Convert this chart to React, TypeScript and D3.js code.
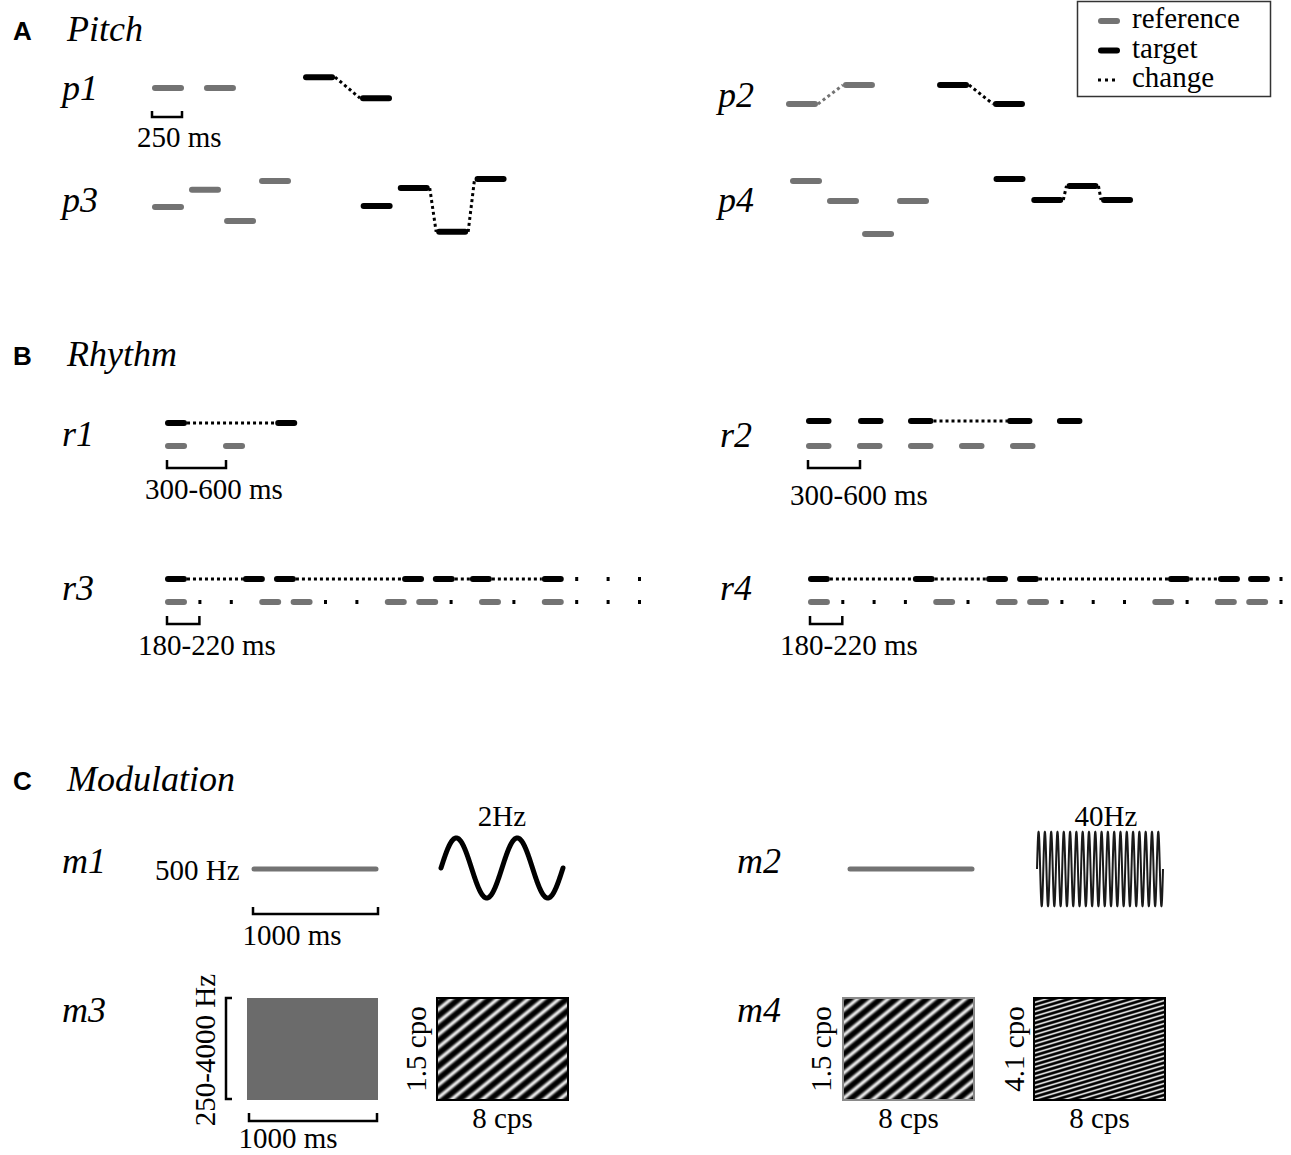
import React, { useEffect, useRef } from 'react'
import * as d3 from 'd3'

const W = 1291
const H = 1155
const SERIF = '"Liberation Serif", "Times New Roman", serif'
const SANS = '"Liberation Sans", Arial, sans-serif'
const GREY = '#737373'

// ---- A: pitch. onsets in ms (tones are 250 ms), levels in pitch steps
const TONE_MS = 250
const p1RefOn = [0, 406]
const p1RefLv = [0, 0]
const p1TgtOn = [1180, 1625]
const p1TgtLv = [3.1, -2.9]
const p1RefChg: number[] = []
const p1TgtChg = [0]

const p2RefOn = [0, 445]
const p2RefLv = [-2.7, 2.7]
const p2TgtOn = [1180, 1617]
const p2TgtLv = [2.7, -2.7]
const p2RefChg = [0]
const p2TgtChg = [0]

const p3RefOn = [0, 289, 563, 836]
const p3RefLv = [0, 4.9, -4, 7.4]
const p3TgtOn = [1630, 1920, 2220, 2520]
const p3TgtLv = [0.3, 5.4, -7.1, 8]
const p3RefChg: number[] = []
const p3TgtChg = [1, 2]

const p4RefOn = [0, 289, 563, 836]
const p4RefLv = [5.7, 0, -9.4, 0]
const p4TgtOn = [1590, 1885, 2160, 2430]
const p4TgtLv = [6.3, 0.3, 4.3, 0.3]
const p4RefChg: number[] = []
const p4TgtChg = [1, 2]

// ---- B: rhythm. onsets in beats (r1, r2) or grid slots (r3, r4)
const r1RefOn = [0, 1]
const r1TgtOn = [0, 1.9]
const r1TgtChg = [0]

const r2RefOn = [0, 1, 2, 3, 4]
const r2TgtOn = [0, 1.02, 2, 3.94, 4.92]
const r2TgtChg = [2]

const r3RefOn = [0, 3, 4, 7, 8, 10, 12]
const r3RefRest = [1, 2, 5, 6, 9, 11, 13, 14, 15]
const r3TgtOn = [0, 2.48, 3.47, 7.55, 8.53, 9.71, 12]
const r3TgtRest = [13, 14, 15]
const r3TgtChg = [0, 2, 4, 5]

const r4RefOn = [0, 4, 6, 7, 11, 13, 14]
const r4RefRest = [1, 2, 3, 5, 8, 9, 10, 12, 15]
const r4TgtOn = [0, 3.35, 5.69, 6.68, 11.5, 13.1, 14.06]
const r4TgtRest = [15]
const r4TgtChg = [0, 1, 3, 4]

// ---- C: modulation
const TONE_DUR = 1000 // ms
const m1ModHz = 2
const m2ModCycles = 20 // cycles visible in the drawn 40 Hz trace
const ripCps = 8.5 // temporal cycles across a ripple panel
const ripCpo = [1.5, 1.5, 4.1]
const ripOctSpan = 5.4

const legendLabels = ['reference', 'target', 'change']

type G = d3.Selection<SVGGElement, unknown, null, undefined>

function text(g: G, s: string, x: number, y: number, size: number, opts: any = {}) {
  const t = g.append('text')
    .attr('x', x).attr('y', y)
    .attr('font-family', opts.family || SERIF)
    .attr('font-size', size)
    .attr('font-style', opts.italic ? 'italic' : 'normal')
    .attr('font-weight', opts.bold ? 'bold' : 'normal')
    .attr('text-anchor', opts.anchor || 'start')
    .attr('fill', '#000')
    .text(s)
  if (opts.rotate) t.attr('transform', `rotate(-90 ${x} ${y})`)
  return t
}

function bracket(g: G, x1: number, x2: number, y1: number, y2: number) {
  g.append('path')
    .attr('d', `M${x1},${y1}V${y2}H${x2}V${y1}`)
    .attr('fill', 'none').attr('stroke', '#000').attr('stroke-width', 2.5)
}

function pitchSeq(g: G, on: number[], lv: number[], chg: number[],
  x: d3.ScaleLinear<number, number>, y: d3.ScaleLinear<number, number>, color: string) {
  const tones = on.map((t, i) => ({ t, y: y(lv[i]) }))
  g.append('g').selectAll('line').data(chg).join('line')
    .attr('x1', i => x(tones[i].t + TONE_MS)).attr('y1', i => tones[i].y)
    .attr('x2', i => x(tones[i + 1].t)).attr('y2', i => tones[i + 1].y)
    .attr('stroke', color).attr('stroke-width', 3).attr('stroke-dasharray', '3 3')
  g.append('g').selectAll('line').data(tones).join('line')
    .attr('x1', d => x(d.t) + 3).attr('x2', d => x(d.t + TONE_MS) - 3)
    .attr('y1', d => d.y).attr('y2', d => d.y)
    .attr('stroke', color).attr('stroke-width', 6).attr('stroke-linecap', 'round')
}

function rhythmSeq(g: G, on: number[], rest: number[], chg: number[],
  x: d3.ScaleLinear<number, number>, yRow: number, len: number, color: string) {
  g.append('g').selectAll('line').data(chg).join('line')
    .attr('x1', i => x(on[i] + len)).attr('x2', i => x(on[i + 1]))
    .attr('y1', yRow).attr('y2', yRow)
    .attr('stroke', '#000').attr('stroke-width', 3).attr('stroke-dasharray', '3 3')
  g.append('g').selectAll('line').data(on).join('line')
    .attr('x1', d => x(d) + 3).attr('x2', d => x(d + len) - 3)
    .attr('y1', yRow).attr('y2', yRow)
    .attr('stroke', color).attr('stroke-width', 6).attr('stroke-linecap', 'round')
  g.append('g').selectAll('rect').data(rest).join('rect')
    .attr('x', d => x(d) + 2).attr('y', yRow - 2).attr('width', 3).attr('height', 4)
    .attr('fill', '#000')
}

export default function App() {
  const ref = useRef<SVGSVGElement>(null)

  useEffect(() => {
    document.body.style.margin = '0'
    const svg = d3.select(ref.current)
    svg.selectAll('*').remove()
    const g = svg.append('g') as unknown as G
    const defs = svg.append('defs')

    // section headings
    const heads = [['A', 'Pitch', 40], ['B', 'Rhythm', 365], ['C', 'Modulation', 790]] as const
    heads.forEach(([k, name, y]) => {
      text(g, k, 13, y, 26, { family: SANS, bold: true })
      text(g, name, 67, y + 1, 36, { italic: true })
    })

    // ---------- A: Pitch ----------
    const pitchRows = [
      { lab: 'p1', lx: 62, ly: 100, x0: 152, yc: 88, ro: p1RefOn, rl: p1RefLv, rc: p1RefChg, to: p1TgtOn, tl: p1TgtLv, tc: p1TgtChg },
      { lab: 'p2', lx: 718, ly: 107, x0: 786, yc: 94.5, ro: p2RefOn, rl: p2RefLv, rc: p2RefChg, to: p2TgtOn, tl: p2TgtLv, tc: p2TgtChg },
      { lab: 'p3', lx: 62, ly: 212, x0: 152, yc: 207, ro: p3RefOn, rl: p3RefLv, rc: p3RefChg, to: p3TgtOn, tl: p3TgtLv, tc: p3TgtChg },
      { lab: 'p4', lx: 718, ly: 212, x0: 790, yc: 201, ro: p4RefOn, rl: p4RefLv, rc: p4RefChg, to: p4TgtOn, tl: p4TgtLv, tc: p4TgtChg },
    ]
    pitchRows.forEach(r => {
      const x = d3.scaleLinear().domain([0, TONE_MS]).range([r.x0, r.x0 + 32])
      const y = d3.scaleLinear().domain([-10, 10]).range([r.yc + 35, r.yc - 35])
      text(g, r.lab, r.lx, r.ly, 36, { italic: true })
      pitchSeq(g, r.ro, r.rl, r.rc, x, y, GREY)
      pitchSeq(g, r.to, r.tl, r.tc, x, y, '#000')
    })
    bracket(g, 152, 182, 111, 117)
    text(g, '250 ms', 137, 147, 29)

    // legend
    g.append('rect').attr('x', 1077.5).attr('y', 1.5).attr('width', 193).attr('height', 95)
      .attr('fill', 'none').attr('stroke', '#333').attr('stroke-width', 1.5)
    const ly = d3.scalePoint<string>().domain(legendLabels).range([21, 80])
    legendLabels.forEach((l, i) => {
      const yy = ly(l) as number
      if (i < 2) {
        g.append('line').attr('x1', 1101).attr('x2', 1117).attr('y1', yy).attr('y2', yy)
          .attr('stroke', i === 0 ? GREY : '#000').attr('stroke-width', 6).attr('stroke-linecap', 'round')
      } else {
        g.append('line').attr('x1', 1098).attr('x2', 1117).attr('y1', yy).attr('y2', yy)
          .attr('stroke', '#000').attr('stroke-width', 3).attr('stroke-dasharray', '3 4')
      }
      text(g, l, 1132, yy + 7, 29)
    })

    // ---------- B: Rhythm ----------
    const rhythmRows = [
      { lab: 'r1', lx: 62, ly: 446, x0: 165, unit: 58, yt: 423, yr: 446, len: 0.38, ro: r1RefOn, rr: [] as number[], to: r1TgtOn, tr: [] as number[], tc: r1TgtChg },
      { lab: 'r2', lx: 720, ly: 447, x0: 806, unit: 51, yt: 421, yr: 446, len: 0.5, ro: r2RefOn, rr: [] as number[], to: r2TgtOn, tr: [] as number[], tc: r2TgtChg },
      { lab: 'r3', lx: 62, ly: 600, x0: 165, unit: 31.4, yt: 579, yr: 602, len: 0.7, ro: r3RefOn, rr: r3RefRest, to: r3TgtOn, tr: r3TgtRest, tc: r3TgtChg },
      { lab: 'r4', lx: 720, ly: 600, x0: 808, unit: 31.3, yt: 579, yr: 602, len: 0.7, ro: r4RefOn, rr: r4RefRest, to: r4TgtOn, tr: r4TgtRest, tc: r4TgtChg },
    ]
    rhythmRows.forEach(r => {
      const x = d3.scaleLinear().domain([0, 1]).range([r.x0, r.x0 + r.unit])
      text(g, r.lab, r.lx, r.ly, 36, { italic: true })
      rhythmSeq(g, r.to, r.tr, r.tc, x, r.yt, r.len, '#000')
      rhythmSeq(g, r.ro, r.rr, [], x, r.yr, r.len, GREY)
      const by = r.yr + 14
      bracket(g, x(0) + 2, x(1) + 3, by, by + 8)
    })
    text(g, '300-600 ms', 145, 499, 29)
    text(g, '300-600 ms', 790, 505, 29)
    text(g, '180-220 ms', 138, 655, 29)
    text(g, '180-220 ms', 780, 655, 29)

    // ---------- C: Modulation ----------
    text(g, 'm1', 62, 873, 36, { italic: true })
    text(g, 'm2', 737, 873, 36, { italic: true })
    text(g, 'm3', 62, 1022, 36, { italic: true })
    text(g, 'm4', 737, 1022, 36, { italic: true })

    const steady = [{ x0: 252, y: 869 }, { x0: 848, y: 869 }]
    steady.forEach(s => {
      const x = d3.scaleLinear().domain([0, TONE_DUR]).range([s.x0, s.x0 + 126])
      g.append('line').attr('x1', x(0) + 2).attr('x2', x(TONE_DUR) - 2).attr('y1', s.y).attr('y2', s.y)
        .attr('stroke', GREY).attr('stroke-width', 5).attr('stroke-linecap', 'round')
    })
    text(g, '500 Hz', 155, 880, 29)
    bracket(g, 253, 378, 907, 914)
    text(g, '1000 ms', 292, 945, 29, { anchor: 'middle' })

    // 2 Hz modulator
    const sx1 = d3.scaleLinear().domain([0, TONE_DUR]).range([441, 563])
    const sy1 = d3.scaleLinear().domain([-1, 1]).range([898, 838])
    const line1 = d3.line<number>().x(t => sx1(t)).y(t => sy1(Math.sin(2 * Math.PI * m1ModHz * t / 1000)))
    g.append('path').datum(d3.range(0, TONE_DUR + 1, 2)).attr('d', line1)
      .attr('fill', 'none').attr('stroke', '#000').attr('stroke-width', 5).attr('stroke-linecap', 'round')
    text(g, '2Hz', 502, 826, 29, { anchor: 'middle' })

    // 40 Hz modulator
    const sx2 = d3.scaleLinear().domain([0, TONE_DUR]).range([1037, 1163])
    const sy2 = d3.scaleLinear().domain([-1, 1]).range([906, 832])
    const line2 = d3.line<number>().x(t => sx2(t)).y(t => sy2(Math.sin(2 * Math.PI * m2ModCycles * t / 1000)))
    g.append('path').datum(d3.range(0, TONE_DUR + 0.5, 0.5)).attr('d', line2)
      .attr('fill', 'none').attr('stroke', '#1a1a1a').attr('stroke-width', 2)
    text(g, '40Hz', 1106, 826, 29, { anchor: 'middle' })

    // m3: broadband noise block
    g.append('rect').attr('x', 247).attr('y', 998).attr('width', 131).attr('height', 102).attr('fill', '#6b6b6b')
    g.append('path').attr('d', 'M232,998H226V1099H232').attr('fill', 'none').attr('stroke', '#000').attr('stroke-width', 2.5)
    text(g, '250-4000 Hz', 215, 1050, 29, { anchor: 'middle', rotate: true })
    bracket(g, 249, 377, 1113, 1121)
    text(g, '1000 ms', 288, 1148, 29, { anchor: 'middle' })

    // ripples
    const shade = d3.scaleLinear<string>().domain([0, 1]).range(['#000', '#e4e4e4'])
    const stops = d3.range(0, 1.0001, 1 / 32)
    const ripples = [
      { x: 437, y: 998, cpo: ripCpo[0], stroke: '#000', lx: 426 },
      { x: 843, y: 998, cpo: ripCpo[1], stroke: '#8a8a8a', lx: 831 },
      { x: 1034, y: 998, cpo: ripCpo[2], stroke: '#000', lx: 1024 },
    ]
    const rw = 131, rh = 102
    ripples.forEach((rp, i) => {
      const kx = ripCps / rw
      const ky = (rp.cpo * ripOctSpan) / rh
      const k2 = kx * kx + ky * ky
      const grad = defs.append('linearGradient').attr('id', `rip${i}`)
        .attr('gradientUnits', 'userSpaceOnUse').attr('spreadMethod', 'repeat')
        .attr('x1', rp.x).attr('y1', rp.y).attr('x2', rp.x + kx / k2).attr('y2', rp.y + ky / k2)
      grad.selectAll('stop').data(stops).join('stop')
        .attr('offset', d => d)
        .attr('stop-color', d => shade(Math.pow((1 + Math.cos(2 * Math.PI * d)) / 2, 1.9)))
      g.append('rect').attr('x', rp.x).attr('y', rp.y).attr('width', rw).attr('height', rh)
        .attr('fill', `url(#rip${i})`).attr('stroke', rp.stroke).attr('stroke-width', 2)
      text(g, `${rp.cpo} cpo`, rp.lx, rp.y + rh / 2, 29, { anchor: 'middle', rotate: true })
      text(g, '8 cps', rp.x + rw / 2, 1128, 29, { anchor: 'middle' })
    })
  }, [])

  return <svg ref={ref} width={W} height={H} style={{ display: 'block', background: '#fff' }} />
}
